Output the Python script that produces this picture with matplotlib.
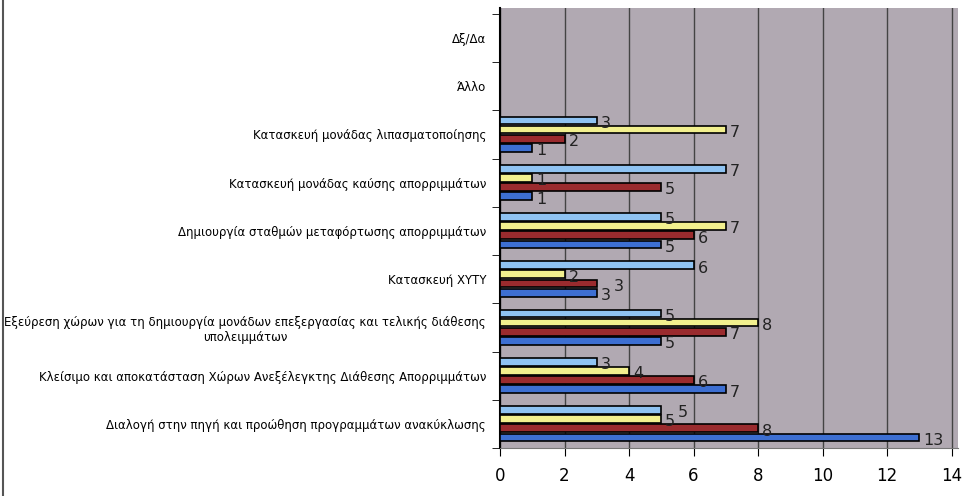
import matplotlib.pyplot as plt
import numpy as np

categories = [
    'Διαλογή στην πηγή και προώθηση προγραμμάτων ανακύκλωσης',
    'Κλείσιμο και αποκατάσταση Χώρων Ανεξέλεγκτης Διάθεσης Απορριμμάτων',
    'Εξεύρεση χώρων για τη δημιουργία μονάδων επεξεργασίας και τελικής διάθεσης\nυπολειμμάτων',
    'Κατασκευή ΧΥΤΥ',
    'Δημιουργία σταθμών μεταφόρτωσης απορριμμάτων',
    'Κατασκευή μονάδας καύσης απορριμμάτων',
    'Κατασκευή μονάδας λιπασματοποίησης',
    'Άλλο',
    'Δξ/Δα',
]
# four series, drawn bottom to top inside each group
series_blue = [13, 7, 5, 3, 5, 1, 1, 0, 0]
series_red = [8, 6, 7, 3, 6, 5, 2, 0, 0]
series_yellow = [5, 4, 8, 2, 7, 1, 7, 0, 0]
series_light = [5, 3, 5, 6, 5, 7, 3, 0, 0]
x_ticks = [0, 2, 4, 6, 8, 10, 12, 14]

series = [series_blue, series_red, series_yellow, series_light]
colors = ['#3d6fd2', '#9a2b2e', '#f2f08e', '#8fc3f2']
font = ['Liberation Sans Narrow', 'DejaVu Sans']

fig = plt.figure(figsize=(9.64, 4.96), dpi=100)
ax = fig.add_axes([500 / 964, 1 - 448 / 496, 458 / 964, 440 / 496])
ax.set_facecolor('#b1a9b2')

y = np.arange(len(categories))
h = 0.16
offsets = [-0.28, -0.09, 0.1, 0.29]
for k, (vals, col, off) in enumerate(zip(series, colors, offsets)):
    ax.barh(y + off, vals, height=h, color=col, edgecolor='black', linewidth=1.2, zorder=3)
    for i, (yi, v) in enumerate(zip(y, vals)):
        if v == 0:
            continue
        dx = 0.12
        # nudge a label when the bar below it in the group ends at the same value
        if k > 0 and series[k - 1][i] == v:
            dx += 0.4
        ax.text(v + dx, yi + off - 0.06, str(v), fontsize=11.5, va='center', ha='left',
                color='#222222', family=font, zorder=4)

ax.set_xlim(0, 14.2)
ax.set_ylim(-0.5, len(categories) - 0.5 + 0.12)
ax.set_xticks(x_ticks)
ax.set_xticklabels([str(t) for t in x_ticks], fontsize=12, family=font)
ax.set_yticks(y)
ax.set_yticklabels(categories, fontsize=8.5, family=font, ha='right', multialignment='center')
ax.set_yticks(np.arange(-0.5, len(categories)), minor=True)
ax.tick_params(axis='y', which='major', length=0, pad=10)
ax.tick_params(axis='y', which='minor', length=6, direction='out')
ax.tick_params(axis='x', length=6, direction='out', pad=8)
ax.grid(axis='x', color='#444444', linewidth=1, zorder=1)
for s in ['top', 'right']:
    ax.spines[s].set_visible(False)
ax.spines['left'].set_linewidth(1.5)
ax.spines['bottom'].set_color('#777777')

fig.add_artist(plt.Line2D([3 / 964, 3 / 964], [0, 1], color='#555555', linewidth=1.5))

plt.savefig('out.png', dpi=100)
